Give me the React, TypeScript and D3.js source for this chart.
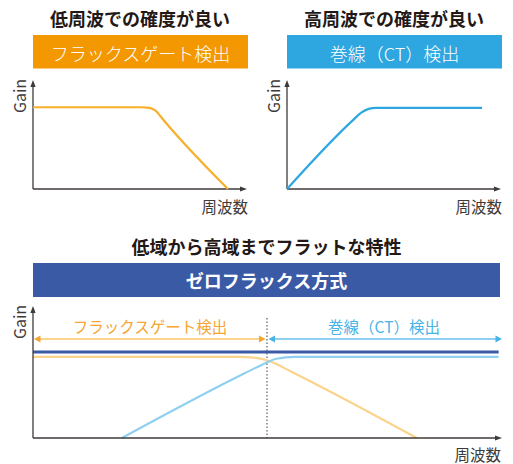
import React from 'react'
import * as d3 from 'd3'

// panel titles and labels
const topTitles = ['低周波での確度が良い', '高周波での確度が良い']
const topBoxes = ['フラックスゲート検出', '巻線（CT）検出']
const bottomTitle = '低域から高域までフラットな特性'
const bottomBox = 'ゼロフラックス方式'
const rangeLabels = ['フラックスゲート検出', '巻線（CT）検出']
const yLabel = 'Gain'
const xLabel = '周波数'

// curves, [frequency, gain] on a 0..100 scale
const gateTop: [number, number][] = [[0, 75], [51, 75], [54, 74.7], [56.5, 73.4], [58.5, 70.6], [60, 67], [92, 0]]
const ctTop: [number, number][] = [[0, 0], [31, 63], [35, 70], [38.5, 73.5], [42, 74.5], [92, 74.5]]
const zeroFlux: [number, number][] = [[0, 65.6], [99.5, 65.6]]
const gateBottom: [number, number][] = [[0, 62], [44, 62], [48, 61], [51, 58], [55, 51], [82, 0]]
const ctBottom: [number, number][] = [[19, 0], [45, 49], [49, 56], [52, 60.5], [56, 62], [99.5, 62]]
const split = 50 // frequency where the two detectors hand over

const C = {
  text: '#231815',
  axis: '#3e3a39',
  orange: '#F39800',
  blue: '#2EA7E0',
  navy: '#3B5AA5',
  orangeLine: '#F7B02C',
  lightOrange: '#FBD38C',
  lightBlue: '#8FD0F1',
  orangeLabel: '#F6A531',
  blueLabel: '#48B3E6',
}
const font = '"Noto Sans CJK JP", "Noto Sans", sans-serif'

function Axes({ x0, x1, y0, y1 }: { x0: number; x1: number; y0: number; y1: number }) {
  // y0 = bottom (axis line), y1 = top arrow tip, x1 = right arrow tip
  return (
    <g fill={C.axis} stroke={C.axis}>
      <line x1={x0} y1={y0} x2={x0} y2={y1 + 5} strokeWidth={1.3} />
      <line x1={x0} y1={y0} x2={x1 - 5} y2={y0} strokeWidth={1.3} />
      <path d={`M${x0},${y1} L${x0 - 2.6},${y1 + 7} L${x0 + 2.6},${y1 + 7}Z`} stroke="none" />
      <path d={`M${x1},${y0} L${x1 - 7},${y0 - 2.6} L${x1 - 7},${y0 + 2.6}Z`} stroke="none" />
    </g>
  )
}

function SmallPanel({ ox, title, box, boxColor, data, lineColor }:
  { ox: number; title: string; box: string; boxColor: string; data: [number, number][]; lineColor: string }) {
  const x = d3.scaleLinear().domain([0, 100]).range([ox, ox + 212])
  const y = d3.scaleLinear().domain([0, 100]).range([189, 80])
  const line = d3.line<[number, number]>().x(d => x(d[0])).y(d => y(d[1])).curve(d3.curveMonotoneX)
  return (
    <g>
      <text x={ox + 107} y={17.5} textAnchor="middle" dominantBaseline="central" fontSize={18} fontWeight={700} fill={C.text}>{title}</text>
      <rect x={ox} y={35} width={215} height={33.5} fill={boxColor} />
      <text x={ox + 107.5} y={52.5} textAnchor="middle" dominantBaseline="central" fontSize={18} fontWeight={300} fill="#fff">{box}</text>
      <Axes x0={ox} x1={ox + 214} y0={189} y1={80} />
      <path d={line(data) || ''} fill="none" stroke={lineColor} strokeWidth={2.2} />
      <text transform={`translate(${ox - 14.5},96) rotate(-90)`} textAnchor="middle" dominantBaseline="central" fontSize={16} fill={C.axis}>{yLabel}</text>
      <text x={ox + 215} y={206} textAnchor="end" dominantBaseline="central" fontSize={15.5} fill={C.axis}>{xLabel}</text>
    </g>
  )
}

function BottomPanel() {
  const x = d3.scaleLinear().domain([0, 100]).range([33, 501])
  const y = d3.scaleLinear().domain([0, 100]).range([438, 307])
  const line = d3.line<[number, number]>().x(d => x(d[0])).y(d => y(d[1])).curve(d3.curveMonotoneX)
  const ay = 339
  const head = (tip: number, dir: number, color: string) => (
    <path d={`M${tip},${ay} L${tip - dir * 6.5},${ay - 3.5} L${tip - dir * 6.5},${ay + 3.5}Z`} fill={color} />
  )
  const xs = x(split)
  return (
    <g>
      <text x={266.5} y={245.5} textAnchor="middle" dominantBaseline="central" fontSize={18} fontWeight={700} fill={C.text}>{bottomTitle}</text>
      <rect x={33} y={263} width={467} height={34} fill={C.navy} />
      <text x={266.5} y={280} textAnchor="middle" dominantBaseline="central" fontSize={18} fontWeight={700} fill="#fff">{bottomBox}</text>

      <line x1={xs} y1={318} x2={xs} y2={438} stroke={C.axis} strokeWidth={1} strokeDasharray="1.5,2" />

      {/* detector ranges */}
      <line x1={x(0) + 3} y1={ay} x2={xs - 3} y2={ay} stroke={C.lightOrange} strokeWidth={2} />
      {head(x(0) + 1, -1, C.orangeLabel)}
      {head(xs - 1.5, 1, C.orangeLabel)}
      <line x1={xs + 3} y1={ay} x2={x(100) - 1} y2={ay} stroke={C.lightBlue} strokeWidth={2} />
      {head(xs + 1.5, -1, C.blueLabel)}
      {head(x(100) + 1, 1, C.blueLabel)}
      <text x={(x(0) + xs) / 2} y={326} textAnchor="middle" dominantBaseline="central" fontSize={15.5} fill={C.orangeLabel}>{rangeLabels[0]}</text>
      <text x={(xs + x(100)) / 2} y={326} textAnchor="middle" dominantBaseline="central" fontSize={15.5} fill={C.blueLabel}>{rangeLabels[1]}</text>

      <path d={line(gateBottom) || ''} fill="none" stroke={C.lightOrange} strokeWidth={2.2} />
      <path d={line(ctBottom) || ''} fill="none" stroke={C.lightBlue} strokeWidth={2.2} />
      <path d={line(zeroFlux) || ''} fill="none" stroke={C.navy} strokeWidth={3} />

      <Axes x0={33} x1={502} y0={438} y1={306} />
      <text transform={`translate(18.5,322) rotate(-90)`} textAnchor="middle" dominantBaseline="central" fontSize={16} fill={C.axis}>{yLabel}</text>
      <text x={501} y={454} textAnchor="end" dominantBaseline="central" fontSize={15.5} fill={C.axis}>{xLabel}</text>
    </g>
  )
}

export default function App() {
  return (
    <div style={{ position: 'fixed', left: 0, top: 0 }}>
      <svg width={513} height={464} style={{ display: 'block', background: '#fff', fontFamily: font }}>
        <SmallPanel ox={33} title={topTitles[0]} box={topBoxes[0]} boxColor={C.orange} data={gateTop} lineColor={C.orangeLine} />
        <SmallPanel ox={287} title={topTitles[1]} box={topBoxes[1]} boxColor={C.blue} data={ctTop} lineColor={C.blue} />
        <BottomPanel />
      </svg>
    </div>
  )
}
